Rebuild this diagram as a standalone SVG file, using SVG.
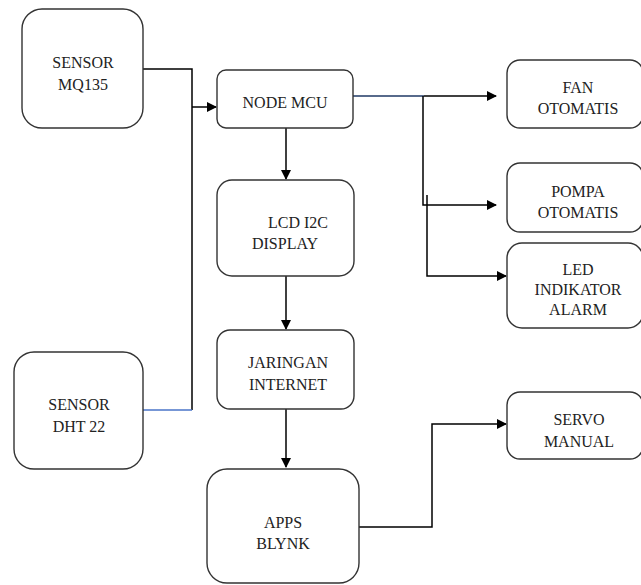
<svg xmlns="http://www.w3.org/2000/svg" width="641" height="585" viewBox="0 0 641 585">
<defs>
<style>
.box{fill:#fff;stroke:#333;stroke-width:1.4}
.t{font-family:'Liberation Serif','Times New Roman',serif;font-size:16px;fill:#222;text-anchor:middle}
.c{fill:none;stroke:#000;stroke-width:1.5}
</style>
<marker id="ah" markerWidth="10" markerHeight="10" refX="9" refY="5" orient="auto" markerUnits="userSpaceOnUse">
<path d="M0,0 L10,5 L0,10 z" fill="#000"/>
</marker>
</defs>
<rect width="641" height="585" fill="#fff"/>
<g id="connectors">
<path class="c" d="M143,69 H192 V410"/>
<path class="c" d="M143,410 H192" style="stroke:#4a74c8"/>
<path class="c" d="M192,107 H216" marker-end="url(#ah)"/>
<path class="c" d="M353,96 H424" style="stroke:#1f3864"/>
<path class="c" d="M424,96 H496" marker-end="url(#ah)"/>
<path class="c" d="M423,96 V205 H496" marker-end="url(#ah)"/>
<path class="c" d="M427,195 V276 H506" marker-end="url(#ah)"/>
<path class="c" d="M286,128 V179" marker-end="url(#ah)"/>
<path class="c" d="M286,276 V329" marker-end="url(#ah)"/>
<path class="c" d="M286,409 V467" marker-end="url(#ah)"/>
<path class="c" d="M359,527 H432 V424 H506" marker-end="url(#ah)"/>
</g>
<g id="sensor-mq135">
<rect class="box" x="22" y="9" width="121" height="119" rx="20"/>
<text class="t" x="83" y="68">SENSOR</text>
<text class="t" x="83" y="90">MQ135</text>
</g>
<g id="sensor-dht22">
<rect class="box" x="14" y="352" width="129" height="117" rx="20"/>
<text class="t" x="79" y="410">SENSOR</text>
<text class="t" x="79" y="432">DHT 22</text>
</g>
<g id="node-mcu">
<rect class="box" x="217" y="70" width="136" height="58" rx="9"/>
<text class="t" x="285" y="108">NODE MCU</text>
</g>
<g id="lcd">
<rect class="box" x="217" y="180" width="137" height="96" rx="15"/>
<text class="t" x="298" y="228">LCD I2C</text>
<text class="t" x="285" y="249">DISPLAY</text>
</g>
<g id="jaringan">
<rect class="box" x="217" y="330" width="137" height="79" rx="13"/>
<text class="t" x="288" y="368">JARINGAN</text>
<text class="t" x="288" y="390">INTERNET</text>
</g>
<g id="apps-blynk">
<rect class="box" x="207" y="469" width="152" height="114" rx="20"/>
<text class="t" x="283" y="528">APPS</text>
<text class="t" x="283" y="549">BLYNK</text>
</g>
<g id="fan">
<rect class="box" x="507" y="60" width="136" height="68" rx="13"/>
<text class="t" x="578" y="93">FAN</text>
<text class="t" x="578" y="114">OTOMATIS</text>
</g>
<g id="pompa">
<rect class="box" x="507" y="163" width="136" height="69" rx="13"/>
<text class="t" x="578" y="197">POMPA</text>
<text class="t" x="578" y="218">OTOMATIS</text>
</g>
<g id="led">
<rect class="box" x="507" y="243" width="136" height="85" rx="15"/>
<text class="t" x="578" y="275">LED</text>
<text class="t" x="578" y="295">INDIKATOR</text>
<text class="t" x="578" y="315">ALARM</text>
</g>
<g id="servo">
<rect class="box" x="507" y="392" width="136" height="67" rx="13"/>
<text class="t" x="579" y="425">SERVO</text>
<text class="t" x="579" y="447">MANUAL</text>
</g>
</svg>
